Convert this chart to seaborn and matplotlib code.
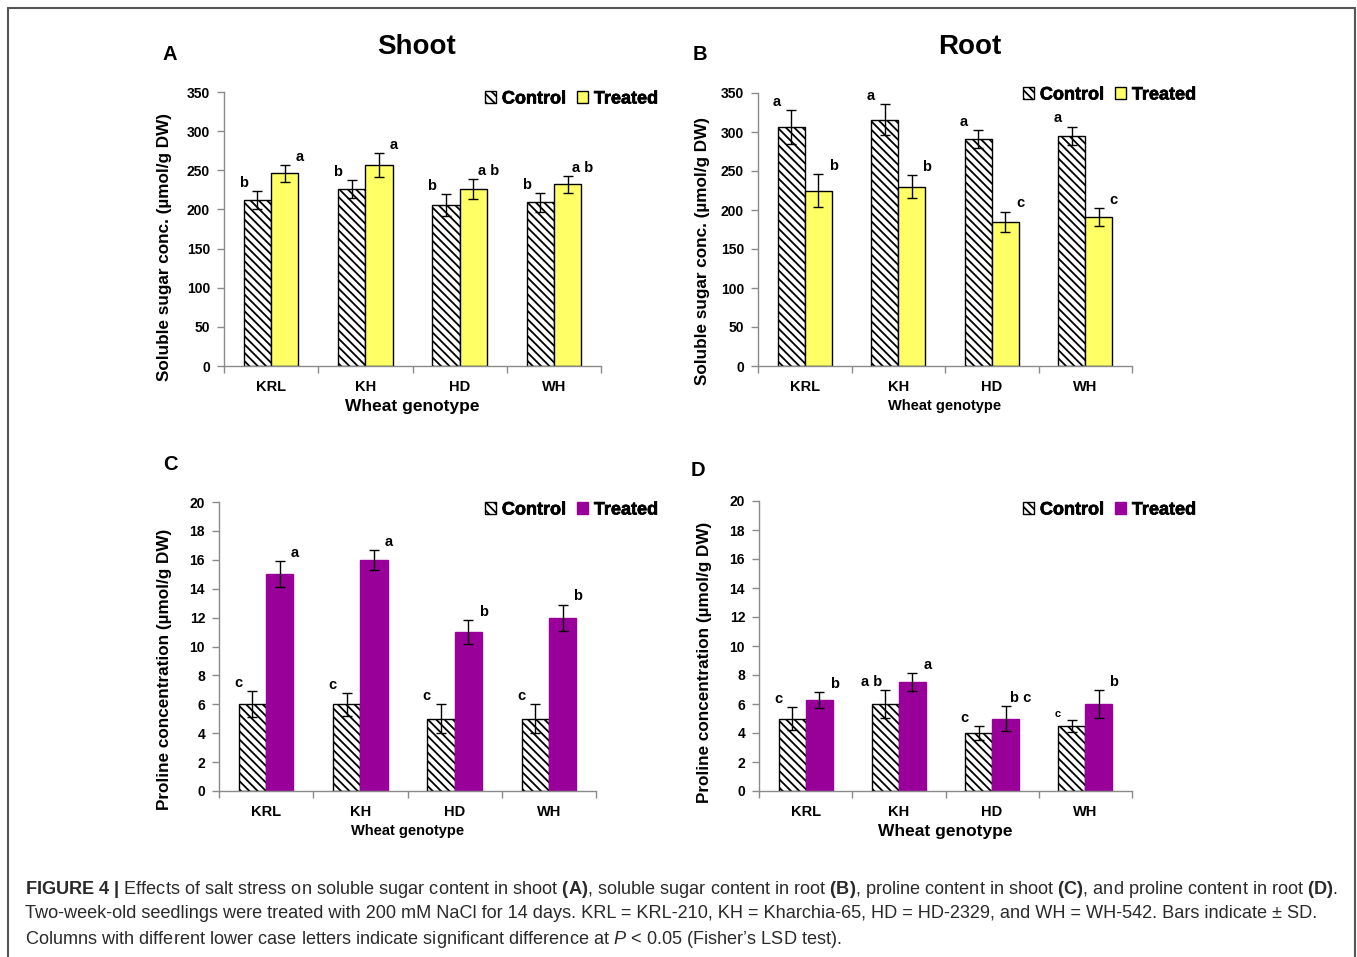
import matplotlib
matplotlib.use("Agg")
import matplotlib.pyplot as plt
from matplotlib.patches import Patch
from matplotlib.lines import Line2D
from matplotlib.font_manager import FontProperties
import matplotlib.patheffects as pe
import seaborn as sns
import pandas as pd

# ---- data -------------------------------------------------------------
genotypes = ["KRL", "KH", "HD", "WH"]

shoot_sugar_control = [212, 226, 206, 209]
shoot_sugar_control_sd = [12, 12, 14, 12]
shoot_sugar_treated = [246, 257, 226, 232]
shoot_sugar_treated_sd = [11, 15, 13, 11]
shoot_sugar_control_letters = ["b", "b", "b", "b"]
shoot_sugar_treated_letters = ["a", "a", "a b", "a b"]

root_sugar_control = [306, 316, 291, 295]
root_sugar_control_sd = [22, 20, 11, 12]
root_sugar_treated = [225, 230, 185, 191]
root_sugar_treated_sd = [21, 15, 13, 11]
root_sugar_control_letters = ["a", "a", "a", "a"]
root_sugar_treated_letters = ["b", "b", "c", "c"]

shoot_proline_control = [6.0, 6.0, 5.0, 5.0]
shoot_proline_control_sd = [0.9, 0.8, 1.0, 1.0]
shoot_proline_treated = [15.0, 16.0, 11.0, 12.0]
shoot_proline_treated_sd = [0.9, 0.7, 0.85, 0.9]
shoot_proline_control_letters = ["c", "c", "c", "c"]
shoot_proline_treated_letters = ["a", "a", "b", "b"]

root_proline_control = [5.0, 6.0, 4.0, 4.5]
root_proline_control_sd = [0.77, 0.97, 0.48, 0.4]
root_proline_treated = [6.3, 7.5, 5.0, 6.0]
root_proline_treated_sd = [0.55, 0.62, 0.85, 0.94]
root_proline_control_letters = ["c", "a b", "c", "c"]
root_proline_treated_letters = ["b", "a", "b c", "b"]

treatments = ["Control", "Treated"]

# ---- style ------------------------------------------------------------
sns.set_theme(style="white")
plt.rcParams["font.family"] = ["Liberation Sans", "DejaVu Sans"]
plt.rcParams["hatch.linewidth"] = 1.3
plt.rcParams["text.color"] = "black"
plt.rcParams["axes.labelcolor"] = "black"
plt.rcParams["xtick.labelcolor"] = "black"
plt.rcParams["ytick.labelcolor"] = "black"
plt.rcParams["mathtext.fontset"] = "custom"
plt.rcParams["mathtext.rm"] = "Liberation Sans"
plt.rcParams["mathtext.bf"] = "Liberation Sans:bold"
plt.rcParams["mathtext.it"] = "Liberation Sans:italic"

YELLOW = "#ffff66"
PURPLE = "#990099"
SPINE = "#8a8a8a"
HATCH = "\\\\\\\\"

W, H = 1357, 957
fig = plt.figure(figsize=(W / 100, H / 100), dpi=100)


def fx(px):
    return px / W


def fy(py):
    return 1 - py / H


def panel(rect, control, control_sd, treated, treated_sd, c_letters, t_letters,
          color, edge, ymax, ystep, ylabel, ylabel_pos, xlabel_size,
          legend_anchor, colspacing, small_letters=()):
    left, top, right, bottom = rect
    ax = fig.add_axes([fx(left), fy(bottom), fx(right - left), (bottom - top) / H])
    df = pd.DataFrame({
        "genotype": genotypes * 2,
        "treatment": ["Control"] * 4 + ["Treated"] * 4,
        "value": list(control) + list(treated),
    })
    sns.barplot(data=df, x="genotype", y="value", hue="treatment",
                hue_order=treatments, order=genotypes,
                palette={"Control": "white", "Treated": color},
                width=0.58, gap=0, errorbar=None, legend=False, ax=ax,
                edgecolor="black", linewidth=1.0, saturation=1)
    ctrl_bars, trt_bars = ax.containers[0], ax.containers[1]
    for bar in ctrl_bars:
        bar.set_hatch(HATCH)
        bar.set_edgecolor("black")
    for bar in trt_bars:
        bar.set_edgecolor(edge)

    span = ymax
    for bars, sds, letters, dx in ((ctrl_bars, control_sd, c_letters, -0.15),
                                   (trt_bars, treated_sd, t_letters, 0.16)):
        xs = [b.get_x() + b.get_width() / 2 for b in bars]
        ys = [b.get_height() for b in bars]
        ax.errorbar(xs, ys, yerr=sds, fmt="none", ecolor="black",
                    elinewidth=1.0, capsize=3.5, capthick=1.0, zorder=5)
        for i, (x, y, s, lab) in enumerate(zip(xs, ys, sds, letters)):
            size = 8 if (dx < 0 and i in small_letters) else 10.5
            ax.text(x + dx, y + s + span * 0.004, lab, ha="center", va="bottom",
                    fontsize=size, fontweight="bold", color="black")

    ax.set_ylim(0, ymax)
    ax.set_xlim(-0.5, 3.5)
    ax.set_yticks([v for v in range(0, int(ymax) + 1, ystep)])
    ax.set_xticks(range(4))
    ax.set_xticks([-0.5, 0.5, 1.5, 2.5, 3.5], minor=True)
    ax.set_xticklabels(genotypes, fontsize=10.5, fontweight="bold")
    for t in ax.get_yticklabels():
        t.set_fontweight("bold")
        t.set_fontsize(10)
    ax.tick_params(axis="x", which="major", length=0, pad=10)
    ax.tick_params(axis="x", which="minor", length=5, width=1, color=SPINE,
                   direction="out", bottom=True)
    ax.tick_params(axis="y", length=5, width=1, color=SPINE, direction="out",
                   left=True, pad=5)
    for side in ("top", "right"):
        ax.spines[side].set_visible(False)
    for side in ("left", "bottom"):
        ax.spines[side].set_color(SPINE)
        ax.spines[side].set_linewidth(1.0)
    ax.set_xlabel("Wheat genotype", fontsize=xlabel_size, fontweight="bold",
                  labelpad=4)
    ax.set_ylabel(ylabel, fontsize=12.3, fontweight="bold")
    ax.yaxis.set_label_coords(*ylabel_pos)
    ax.grid(False)

    handles = [Patch(facecolor="white", edgecolor="black", hatch="\\\\\\\\", lw=1),
               Patch(facecolor=color, edgecolor=edge, lw=1)]
    legend_font = FontProperties(family="Liberation Sans", weight="bold", size=13)
    leg = ax.legend(handles, treatments, loc="center right", ncol=2, frameon=False,
                    bbox_to_anchor=legend_anchor, bbox_transform=fig.transFigure,
                    prop=legend_font, handlelength=0.65,
                    handleheight=0.65, handletextpad=0.3, columnspacing=colspacing,
                    borderaxespad=0, borderpad=0)
    for t in leg.get_texts():
        t.set_fontproperties(legend_font)
        t.set_color("black")
        t.set_path_effects([pe.withStroke(linewidth=0.5, foreground="black")])
    return ax


sugar_label = "Soluble sugar conc. (\u00b5mol/g DW)"
proline_label = "Proline concentration (\u00b5mol/g DW)"

panel((224, 92, 601, 366), shoot_sugar_control, shoot_sugar_control_sd,
      shoot_sugar_treated, shoot_sugar_treated_sd,
      shoot_sugar_control_letters, shoot_sugar_treated_letters,
      YELLOW, "black", 350, 50, sugar_label, (-0.138, 0.434), 12.5,
      (fx(658), fy(99)), 0.6)

panel((758, 93, 1132, 366), root_sugar_control, root_sugar_control_sd,
      root_sugar_treated, root_sugar_treated_sd,
      root_sugar_control_letters, root_sugar_treated_letters,
      YELLOW, "black", 350, 50, sugar_label, (-0.128, 0.42), 10.5,
      (fx(1196), fy(95)), 0.6)

panel((219, 502, 596, 791), shoot_proline_control, shoot_proline_control_sd,
      shoot_proline_treated, shoot_proline_treated_sd,
      shoot_proline_control_letters, shoot_proline_treated_letters,
      PURPLE, PURPLE, 20, 2, proline_label, (-0.125, 0.42), 10.5,
      (fx(658), fy(510)), 0.6)

panel((759, 501, 1132, 791), root_proline_control, root_proline_control_sd,
      root_proline_treated, root_proline_treated_sd,
      root_proline_control_letters, root_proline_treated_letters,
      PURPLE, PURPLE, 20, 2, proline_label, (-0.126, 0.445), 12.5,
      (fx(1196), fy(510)), 0.6, small_letters=(3,))

# ---- titles and panel letters ---------------------------------------------
fig.text(fx(417), fy(47), "Shoot", ha="center", va="center", fontsize=20,
         fontweight="bold")
fig.text(fx(970), fy(47), "Root", ha="center", va="center", fontsize=20,
         fontweight="bold")
for lab, x, y in (("A", 170, 55), ("B", 700, 55), ("C", 170, 465), ("D", 698, 470)):
    fig.text(fx(x), fy(y), lab, ha="center", va="center", fontsize=14.5,
             fontweight="bold")

# ---- frame ------------------------------------------------------------------
frame_kw = dict(color="#555555", lw=1.5, transform=fig.transFigure)
fig.add_artist(Line2D([fx(8), fx(8)], [fy(8), 0], **frame_kw))
fig.add_artist(Line2D([fx(8), fx(1355)], [fy(8), fy(8)], **frame_kw))
fig.add_artist(Line2D([fx(1355), fx(1355)], [fy(8), 0], **frame_kw))

# ---- caption ------------------------------------------------------------
caption = [
    r"$\mathbf{FIGURE\ 4\ |}$ Effects of salt stress on soluble sugar content in shoot "
    r"$\mathbf{(A)}$, soluble sugar content in root $\mathbf{(B)}$, proline content in "
    r"shoot $\mathbf{(C)}$, and proline content in root $\mathbf{(D)}$.",
    "Two-week-old seedlings were treated with 200 mM NaCl for 14 days. "
    "KRL = KRL-210, KH = Kharchia-65, HD = HD-2329, and WH = WH-542. "
    "Bars indicate \u00b1 SD.",
    "Columns with different lower case letters indicate significant difference at "
    r"$\mathit{P}$ < 0.05 (Fisher" + "\u2019" + "s LSD test).",
]
for i, line in enumerate(caption):
    fig.text(fx(25), fy(889 + 25 * i), line, ha="left", va="center",
             fontsize=13.1, color="#2a2a2a")

fig.savefig("out.png", dpi=100)
